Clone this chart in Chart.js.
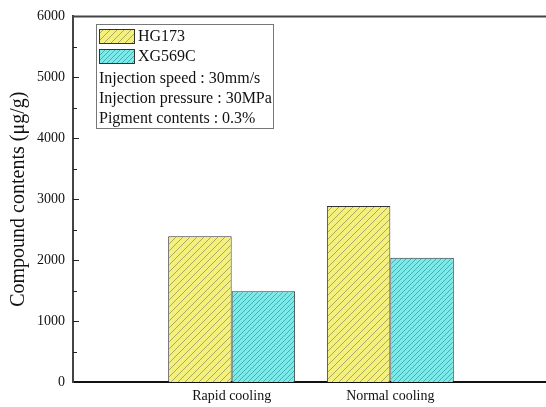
<!DOCTYPE html>
<html>
<head>
<meta charset="utf-8">
<script src="https://cdn.jsdelivr.net/npm/chart.js@4/dist/chart.umd.min.js"></script>
<style>
  html, body { margin: 0; padding: 0; background: #fff; overflow: hidden; }
  #wrap { width: 556px; height: 407px; }
</style>
</head>
<body>
<div id="wrap"><canvas id="c" width="556" height="407"></canvas></div>
<script>
// data
const categories = ['Rapid cooling', 'Normal cooling'];
const hg173 = [2390, 2890];
const xg569c = [1490, 2040];
const yTicks = [0, 1000, 2000, 3000, 4000, 5000, 6000];
const legendNotes = ['Injection speed : 30mm/s', 'Injection pressure : 30MPa', 'Pigment contents : 0.3%'];

const FONT = '"Liberation Serif", "Times New Roman", serif';

function hatch(bg, fg, size, lw) {
  const p = document.createElement('canvas');
  p.width = size; p.height = size;
  const g = p.getContext('2d');
  g.fillStyle = bg;
  g.fillRect(0, 0, size, size);
  g.strokeStyle = fg;
  g.lineWidth = lw;
  g.beginPath();
  g.moveTo(0, size); g.lineTo(size, 0);
  g.moveTo(-size, size); g.lineTo(0, 0);
  g.moveTo(0, size * 2); g.lineTo(size * 2, 0);
  g.stroke();
  return document.getElementById('c').getContext('2d').createPattern(p, 'repeat');
}

const yellowFill = hatch('#f3f07c', '#a9a766', 7, 1);
const cyanFill = hatch('#7ee9e9', '#3fb3b3', 5, 1);

// blank slots at both ends so categories sit at 1 and 2 of 0..3
const labels = [''].concat(categories, ['']);
const pad = arr => [null].concat(arr, [null]);

const frame = {
  id: 'frame',
  afterDraw(chart) {
    const ctx = chart.ctx;
    const a = chart.chartArea;
    const y = chart.scales.y;
    ctx.save();
    // top border
    ctx.strokeStyle = '#444';
    ctx.lineWidth = 2;
    ctx.beginPath();
    ctx.moveTo(a.left - 1, a.top);
    ctx.lineTo(a.right + 10, a.top);
    ctx.stroke();
    // inward ticks, major every 1000, minor every 500
    ctx.lineWidth = 1;
    ctx.strokeStyle = '#222';
    for (let v = 500; v < 6000; v += 500) {
      const py = Math.round(y.getPixelForValue(v)) + 0.5;
      const len = v % 1000 === 0 ? 6 : 4;
      ctx.beginPath();
      ctx.moveTo(a.left, py);
      ctx.lineTo(a.left + len, py);
      ctx.stroke();
    }
    // legend box
    const bx = 96, by = 24, bw = 177, bh = 104;
    ctx.fillStyle = '#fff';
    ctx.fillRect(bx, by, bw, bh);
    ctx.strokeStyle = '#777';
    ctx.lineWidth = 1;
    ctx.strokeRect(bx + 0.5, by + 0.5, bw, bh);
    const sw = [[yellowFill, 'HG173', 29], [cyanFill, 'XG569C', 49]];
    ctx.font = '16px ' + FONT;
    ctx.textBaseline = 'middle';
    ctx.textAlign = 'left';
    sw.forEach(([fill, name, top]) => {
      ctx.fillStyle = fill;
      ctx.fillRect(99, top, 35, 14);
      ctx.strokeStyle = '#333';
      ctx.strokeRect(99.5, top + 0.5, 35, 14);
      ctx.fillStyle = '#111';
      ctx.fillText(name, 138, top + 8);
    });
    legendNotes.forEach((t, i) => {
      ctx.fillText(t, 99, 79 + i * 20);
    });
    ctx.restore();
  }
};

new Chart(document.getElementById('c'), {
  type: 'bar',
  data: {
    labels: labels,
    datasets: [
      { label: 'HG173', data: pad(hg173), backgroundColor: yellowFill, borderColor: '#333', borderWidth: 1 },
      { label: 'XG569C', data: pad(xg569c), backgroundColor: cyanFill, borderColor: '#333', borderWidth: 1 }
    ]
  },
  options: {
    responsive: false,
    animation: false,
    layout: { padding: { left: 0, top: 13, right: 7, bottom: 0 } },
    plugins: { legend: { display: false }, tooltip: { enabled: false } },
    datasets: { bar: { categoryPercentage: 0.8, barPercentage: 1.0 } },
    scales: {
      x: {
        offset: false,
        grid: { display: false, drawTicks: false },
        border: { display: true, color: '#111', width: 2 },
        ticks: { color: '#111', font: { family: FONT, size: 14 }, padding: 6, autoSkip: false, maxRotation: 0 },
        afterFit(s) { s.height = 25; }
      },
      y: {
        min: 0, max: 6000,
        afterBuildTicks(s) { s.ticks = yTicks.map(v => ({ value: v })); },
        grid: { display: false, drawTicks: false },
        border: { display: true, color: '#444', width: 2 },
        ticks: { color: '#111', font: { family: FONT, size: 14 }, padding: 8, callback: v => String(v) },
        title: { display: true, text: 'Compound contents (\u03bcg/g)', color: '#111', font: { family: FONT, size: 20 }, padding: { top: 7, bottom: 0 } },
        afterFit(s) { s.width = 73; }
      }
    }
  },
  plugins: [frame]
});
</script>
</body>
</html>
